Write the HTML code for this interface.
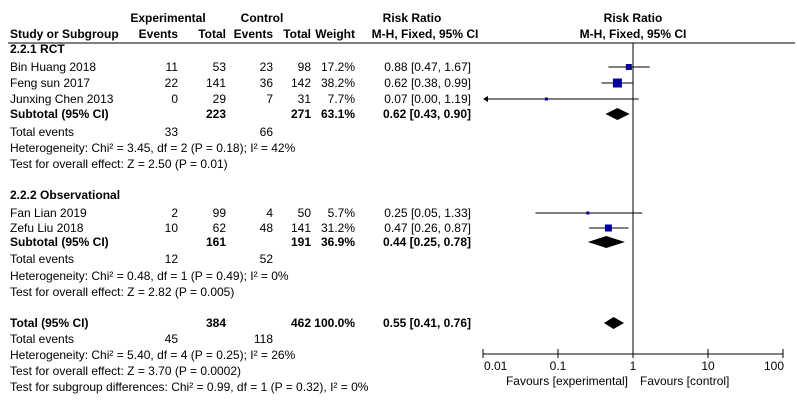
<!DOCTYPE html>
<html><head><meta charset="utf-8"><style>
body{margin:0;background:#fff;}
svg{display:block;font-family:"Liberation Sans",Arial,sans-serif;font-size:12px;}
.b{font-weight:bold;}
</style></head><body>
<svg id="c" width="797" height="412"></svg>
<script>
const studies=["Bin Huang 2018","Feng sun 2017","Junxing Chen 2013","Fan Lian 2019","Zefu Liu 2018"];
const expEvents=[11,22,0,2,10];
const expTotal=[53,141,29,99,62];
const ctlEvents=[23,36,7,4,48];
const ctlTotal=[98,142,31,50,141];
const weights=[17.2,38.2,7.7,5.7,31.2];
const rr=[0.88,0.62,0.07,0.25,0.47];
const lo=[0.47,0.38,0.00,0.05,0.26];
const hi=[1.67,0.99,1.19,1.33,0.87];
const studyY=[67,83,99,213,228];
const sqSize=[6,9,3,3,7];
const subRR=[0.62,0.44,0.55];
const subLo=[0.43,0.25,0.41];
const subHi=[0.90,0.78,0.76];
const axisTicks=[0.01,0.1,1,10,100];
const tickLabels=["0.01","0.1","1","10","100"];

const svg=document.getElementById('c');
const NS='http://www.w3.org/2000/svg';
function xs(v){return 633+75*Math.log10(Math.max(v,0.01));}
function el(tag,attrs,name){const e=document.createElementNS(NS,tag);for(const k in attrs)e.setAttribute(k,attrs[k]);


svg.appendChild(e);return e;}
function t(x,y,s,name,anchor,bold){const e=el('text',{x:x,y:y,'text-anchor':anchor||'start'},name);if(bold)e.setAttribute('class','b');e.textContent=s;return e;}

t(168,22,"Experimental","header-experimental","middle",1);
t(262,22,"Control","header-control","middle",1);
t(412,22,"Risk Ratio","header-risk-ratio","middle",1);
t(633,22,"Risk Ratio","header-risk-ratio-plot","middle",1);
t(10,38,"Study or Subgroup","header-study","start",1);
t(178,38,"Events","header-exp-events","end",1);
t(226,38,"Total","header-exp-total","end",1);
t(273,38,"Events","header-ctl-events","end",1);
t(311,38,"Total","header-ctl-total","end",1);
t(355,38,"Weight","header-weight","end",1);
t(425,38,"M-H, Fixed, 95% CI","header-mh","middle",1);
t(633,38,"M-H, Fixed, 95% CI","header-mh-plot","middle",1);
el('line',{x1:8,y1:43,x2:795,y2:43,stroke:'#000'},'header-rule');
el('line',{x1:633,y1:43,x2:633,y2:354,stroke:'#000'},'null-line');

function fmt(v){return v.toFixed(2);}
for(let i=0;i<studies.length;i++){
  const y=studyY[i]+4;
  t(10,y,studies[i],'study-name');
  t(178,y,expEvents[i],'exp-events','end');
  t(226,y,expTotal[i],'exp-total','end');
  t(273,y,ctlEvents[i],'ctl-events','end');
  t(311,y,ctlTotal[i],'ctl-total','end');
  t(355,y,weights[i].toFixed(1)+'%','weight','end');
  t(471,y,fmt(rr[i])+' ['+fmt(lo[i])+', '+fmt(hi[i])+']','risk-ratio-ci','end');
  const cy=studyY[i];
  const x1=lo[i]<0.01?486:xs(lo[i]);
  el('line',{x1:x1,y1:cy,x2:xs(hi[i]),y2:cy,stroke:'#000'},'ci-line');
  if(lo[i]<0.01) el('polygon',{points:`483,${cy} 488,${cy-3} 488,${cy+3}`,fill:'#000'},'ci-arrow');
  const s=sqSize[i];
  el('rect',{x:xs(rr[i])-s/2,y:cy-s/2,width:s,height:s,fill:'#000099'},'study-square');
}
const subY=[114,242,323];
const subN=["Subtotal (95% CI)","Subtotal (95% CI)","Total (95% CI)"];
const subET=[223,161,384], subCT=[271,191,462], subW=["63.1%","36.9%","100.0%"];
for(let i=0;i<3;i++){
  const y=subY[i]+4;
  t(10,y,subN[i],'subtotal-label','start',1);
  t(226,y,subET[i],'subtotal-exp-total','end',1);
  t(311,y,subCT[i],'subtotal-ctl-total','end',1);
  t(355,y,subW[i],'subtotal-weight','end',1);
  t(471,y,fmt(subRR[i])+' ['+fmt(subLo[i])+', '+fmt(subHi[i])+']','subtotal-ci','end',1);
  const cy=subY[i];
  el('polygon',{points:`${xs(subLo[i])},${cy} ${xs(subRR[i])},${cy-6} ${xs(subHi[i])},${cy} ${xs(subRR[i])},${cy+6}`,fill:'#000'},'subtotal-diamond');
}
t(10,53,"2.2.1 RCT","group-rct","start",1);
t(10,199,"2.2.2 Observational","group-observational","start",1);
const misc=[[136,"Total events","33","66"],[263,"Total events","12","52"],[343,"Total events","45","118"]];
misc.forEach(m=>{t(10,m[0],m[1],'total-events-label');t(178,m[0],m[2],'exp-total-events','end');t(273,m[0],m[3],'ctl-total-events','end');});
t(10,152,"Heterogeneity: Chi² = 3.45, df = 2 (P = 0.18); I² = 42%","heterogeneity-rct");
t(10,168,"Test for overall effect: Z = 2.50 (P = 0.01)","overall-effect-rct");
t(10,280,"Heterogeneity: Chi² = 0.48, df = 1 (P = 0.49); I² = 0%","heterogeneity-obs");
t(10,296,"Test for overall effect: Z = 2.82 (P = 0.005)","overall-effect-obs");
t(10,359,"Heterogeneity: Chi² = 5.40, df = 4 (P = 0.25); I² = 26%","heterogeneity-total");
t(10,375,"Test for overall effect: Z = 3.70 (P = 0.0002)","overall-effect-total");
t(10,391,"Test for subgroup differences: Chi² = 0.99, df = 1 (P = 0.32), I² = 0%","subgroup-differences");

el('line',{x1:xs(0.01),y1:354,x2:xs(100),y2:354,stroke:'#000'},'x-axis');
axisTicks.forEach((v,i)=>{
  el('line',{x1:xs(v),y1:349,x2:xs(v),y2:358,stroke:'#000'},'x-tick');
  const a=i==0?'start':(i==axisTicks.length-1?'end':'middle');
  t(i==0?xs(v)+1:(i==axisTicks.length-1?xs(v)+1:xs(v)),370,tickLabels[i],'x-tick-label',a);
});
t(628,385,"Favours [experimental]","favours-experimental","end");
t(640,385,"Favours [control]","favours-control","start");
</script>
</body></html>
